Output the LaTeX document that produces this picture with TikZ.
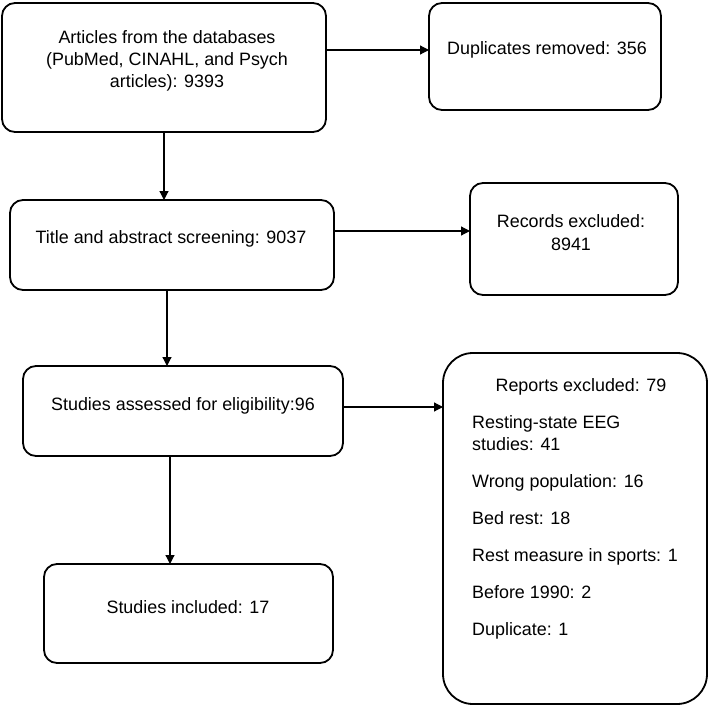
\documentclass[tikz,border=0pt]{standalone}
\usepackage{fontspec}
\setmainfont{Liberation Sans}
\usetikzlibrary{arrows.meta}
\begin{document}
\begin{tikzpicture}[x=1pt,y=-1pt,
  box/.style={draw=black, line width=1.8pt, rounded corners=13pt, rectangle, inner sep=0pt, outer sep=0pt},
  bigbox/.style={box, rounded corners=30pt},
  txt/.style={anchor=base, inner sep=0pt, font=\fontsize{17.9}{22}\selectfont},
  ltxt/.style={txt, anchor=base west},
  arr/.style={draw=black, line width=1.2pt, -{Triangle[length=9pt,width=9pt]}}]
\useasboundingbox (0,0) rectangle (709,706);
% boxes
\node[box, minimum width=324pt, minimum height=129pt] (b1) at (164,67.5) {};
\node[box, minimum width=232pt, minimum height=107pt] (b2) at (545,56.5) {};
\node[box, minimum width=324pt, minimum height=90pt] (b3) at (172,245) {};
\node[box, minimum width=208pt, minimum height=112pt] (b4) at (574,239) {};
\node[box, minimum width=320pt, minimum height=90pt] (b5) at (183,411) {};
\node[bigbox, minimum width=264pt, minimum height=351pt] (b6) at (575,528.5) {};
\node[box, minimum width=289pt, minimum height=99pt] (b7) at (188.5,613.5) {};
% texts
\node[txt] (t1a) at (167,44) {Articles from the databases};
\node[txt] (t1b) at (167,66) {(PubMed, CINAHL, and Psych};
\node[txt] (t1c) at (167,88) {articles): 9393};
\node[txt] (t2) at (547,55) {Duplicates removed: 356};
\node[txt] (t3) at (171,243) {Title and abstract screening: 9037};
\node[txt] (t4a) at (571,227) {Records excluded:};
\node[txt] (t4b) at (571,250) {8941};
\node[txt] (t5) at (183,410) {Studies assessed for eligibility:96};
\node[txt] (t7) at (188,613) {Studies included: 17};
\node[txt] (t6) at (581,391) {Reports excluded: 79};
\node[ltxt] (t6a) at (472,428) {Resting-state EEG};
\node[ltxt] (t6b) at (472,450) {studies: 41};
\node[ltxt] (t6c) at (472,487) {Wrong population: 16};
\node[ltxt] (t6d) at (472,524) {Bed rest: 18};
\node[ltxt] (t6e) at (472,561) {Rest measure in sports: 1};
\node[ltxt] (t6f) at (472,598) {Before 1990: 2};
\node[ltxt] (t6g) at (472,635) {Duplicate: 1};
% connectors
\draw[arr] (b1.east |- 0,50) -- (b2.west |- 0,50);
\draw[arr] (b1.south -| 164,0) -- (b3.north -| 164,0);
\draw[arr] (b3.east |- 0,231) -- (b4.west |- 0,231);
\draw[arr] (b3.south -| 167,0) -- (b5.north -| 167,0);
\draw[arr] (b5.east |- 0,407) -- (b6.west |- 0,407);
\draw[arr] (b5.south -| 170,0) -- (b7.north -| 170,0);
\end{tikzpicture}
\end{document}
